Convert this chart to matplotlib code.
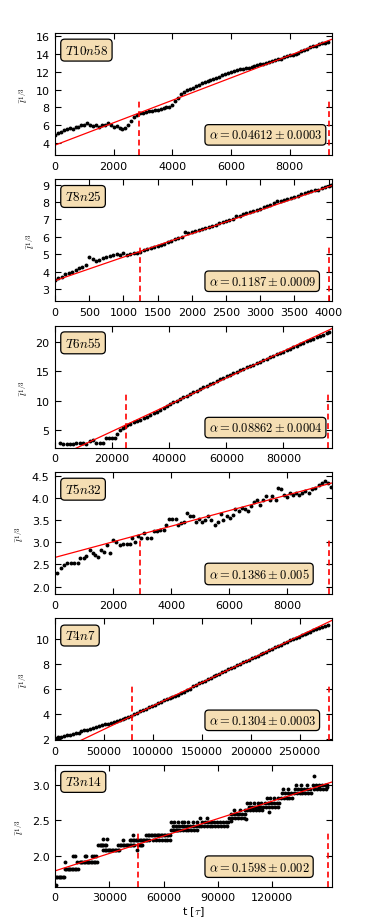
import matplotlib
matplotlib.use("Agg")
import matplotlib.pyplot as plt

plt.rcParams['mathtext.fontset'] = 'cm'
plt.rcParams['font.family'] = ['DejaVu Sans']

# ---- data ----
# T10n58
t_10n58 = [0, 100, 200, 300, 400, 500, 600, 700, 800, 900, 1000, 1100, 1200, 1300, 1400,
           1500, 1600, 1700, 1800, 1900, 2000, 2100, 2200, 2300, 2400, 2500, 2600, 2700,
           2800, 2900, 3000, 3100, 3200, 3300, 3400, 3500, 3600, 3700, 3800, 3900, 4000,
           4100, 4200, 4300, 4400, 4500, 4600, 4700, 4800, 4900, 5000, 5100, 5200, 5300,
           5400, 5500, 5600, 5700, 5800, 5900, 6000, 6100, 6200, 6300, 6400, 6500, 6600,
           6700, 6800, 6900, 7000, 7100, 7200, 7300, 7400, 7500, 7600, 7700, 7800, 7900,
           8000, 8100, 8200, 8300, 8400, 8500, 8600, 8700, 8800, 8900, 9000, 9100, 9200, 9300]
l_10n58 = [4.9, 5.1, 5.3, 5.45, 5.6, 5.75, 5.65, 5.8, 5.85, 6.0, 6.1, 6.25, 6.1, 5.95, 6.0,
           5.85, 6.0, 6.1, 6.3, 6.0, 5.85, 5.9, 5.7, 5.55, 5.75, 6.1, 6.5, 6.9,
           7.2, 7.35, 7.4, 7.45, 7.6, 7.65, 7.7, 7.75, 7.85, 7.95, 8.05, 8.0, 8.3,
           8.7, 9.1, 9.45, 9.7, 9.9, 10.05, 10.2, 10.35, 10.5, 10.7, 10.85, 10.95, 11.05,
           11.15, 11.3, 11.45, 11.6, 11.75, 11.85, 11.95, 12.05, 12.15, 12.25, 12.3, 12.35, 12.4,
           12.5, 12.6, 12.7, 12.8, 12.85, 12.95, 13.05, 13.15, 13.25, 13.35, 13.45, 13.6, 13.7,
           13.8, 13.85, 13.95, 14.1, 14.25, 14.4, 14.55, 14.7, 14.8, 14.9, 15.05, 15.15, 15.2, 15.3]

# T8n25
t_8n25 = [0, 50, 100, 150, 200, 250, 300, 350, 400, 450, 500, 550, 600, 650, 700, 750, 800,
          850, 900, 950, 1000, 1050, 1100, 1150, 1200, 1250, 1300, 1350, 1400, 1450, 1500,
          1550, 1600, 1650, 1700, 1750, 1800, 1850, 1900, 1950, 2000, 2050, 2100, 2150, 2200,
          2250, 2300, 2350, 2400, 2450, 2500, 2550, 2600, 2650, 2700, 2750, 2800, 2850, 2900,
          2950, 3000, 3050, 3100, 3150, 3200, 3250, 3300, 3350, 3400, 3450, 3500, 3550, 3600,
          3650, 3700, 3750, 3800, 3850, 3900, 3950, 4000, 4040]
l_8n25 = [3.55, 3.62, 3.7, 3.85, 3.95, 3.98, 4.1, 4.22, 4.3, 4.4, 4.85, 4.72, 4.62, 4.7, 4.78,
          4.85, 4.92, 4.97, 5.0, 4.98, 5.05, 4.95, 5.02, 5.05, 5.1, 5.15, 5.22, 5.3, 5.35,
          5.42, 5.48, 5.55, 5.62, 5.7, 5.78, 5.88, 5.95, 6.02, 6.3, 6.2, 6.3, 6.32, 6.4,
          6.45, 6.52, 6.55, 6.62, 6.7, 6.78, 6.85, 6.92, 6.95, 7.05, 7.18, 7.2, 7.3, 7.38,
          7.42, 7.5, 7.55, 7.62, 7.7, 7.78, 7.85, 7.92, 8.05, 8.05, 8.1, 8.15, 8.22, 8.3,
          8.35, 8.45, 8.52, 8.58, 8.62, 8.68, 8.72, 8.78, 8.85, 8.9, 8.95]

# T6n55
t_6n55 = [1700, 2900, 4100, 5200, 6400, 7500, 8700, 9800, 11000, 12200, 13300, 14500, 15700,
          16800, 17900, 19000, 20100, 21000, 21800, 22700, 23700, 24500,
          25200, 26300, 27500, 28600, 29800, 31000, 32100, 33300, 34500, 35600, 36800, 38000,
          39200, 40300, 41500, 42600, 43800, 45000, 46100, 47300, 48500, 49600, 50800, 52000,
          53100, 54300, 55500, 56600, 57800, 59000, 60100, 61300, 62500, 63600, 64800, 66000,
          67100, 68300, 69400, 70600, 71800, 72900, 74100, 75300, 76400, 77600, 78800, 79900,
          81100, 82300, 83400, 84600, 85800, 86900, 88100, 89300, 90400, 91600, 92800, 93900,
          95100, 95900]
l_6n55 = [2.72, 2.68, 2.62, 2.65, 2.7, 2.74, 2.78, 2.72, 2.55, 3.15, 3.3, 2.82, 2.78,
          2.85, 3.6, 3.68, 3.62, 3.65, 4.3, 4.95, 5.35, 5.55,
          5.91, 6.11, 6.33, 6.53, 6.70, 6.97, 7.24, 7.54, 7.84, 8.11, 8.44, 8.76,
          9.08, 9.38, 9.68, 9.95, 10.24, 10.53, 10.80, 11.09, 11.39, 11.66, 11.96, 12.23,
          12.49, 12.77, 13.04, 13.30, 13.58, 13.86, 14.11, 14.37, 14.64, 14.88, 15.14, 15.39,
          15.62, 15.88, 16.12, 16.38, 16.63, 16.86, 17.11, 17.37, 17.59, 17.85, 18.1, 18.33,
          18.58, 18.83, 19.06, 19.31, 19.56, 19.79, 20.04, 20.30, 20.53, 20.76, 20.99, 21.20,
          21.43, 21.57]

# T5n32
t_5n32 = [81, 197, 312, 428, 543, 659, 775, 867, 983, 1075, 1191, 1306, 1387, 1468, 1584,
          1700, 1792, 1907, 2000, 2115, 2231, 2347, 2462, 2578, 2659, 2751, 2855, 2948, 3063,
          3179, 3294, 3410, 3503, 3618, 3734, 3826, 3919, 4034, 4150, 4242, 4335, 4451, 4543,
          4636, 4751, 4844, 4959, 5075, 5167, 5260, 5375, 5491, 5607, 5699, 5792, 5907, 6023,
          6115, 6208, 6323, 6439, 6531, 6647, 6739, 6832, 6948, 7063, 7156, 7271, 7387, 7479,
          7595, 7687, 7780, 7872, 7988, 8080, 8196, 8289, 8404, 8497, 8612, 8728, 8843, 8959,
          9075, 9190, 9306, 9398, 9491]
l_5n32 = [2.30, 2.43, 2.49, 2.54, 2.54, 2.54, 2.54, 2.64, 2.64, 2.69, 2.82, 2.76, 2.72, 2.67,
          2.82, 2.78, 2.93, 2.76, 3.05, 3.0, 2.94, 2.97, 2.97, 2.97, 3.11, 3.0, 3.14, 3.1,
          3.22, 3.11, 3.11, 3.25, 3.25, 3.27, 3.28, 3.40, 3.53, 3.53, 3.53, 3.40, 3.44, 3.47,
          3.67, 3.59, 3.59, 3.47, 3.53, 3.46, 3.51, 3.59, 3.50, 3.40, 3.47, 3.65, 3.50, 3.59,
          3.56, 3.62, 3.76, 3.70, 3.78, 3.76, 3.72, 3.83, 3.91, 3.95, 3.85, 3.97, 4.06, 3.97,
          4.05, 3.95, 4.23, 4.21, 4.08, 4.02, 4.12, 4.08, 4.12, 4.08, 4.11, 4.17, 4.12, 4.20,
          4.23, 4.29, 4.35, 4.38, 4.35, 4.25]

# T4n7
t_4n7 = [0, 3000, 6000, 9000, 12000, 15000, 18000, 21000, 24000, 27000, 30000, 33000, 36000,
         39000, 42000, 45000, 48000, 51000, 54000, 57000, 60000, 63000, 66000, 69000, 72000,
         75000, 78000, 81000, 84000, 87000, 90000, 93000, 96000, 99000, 102000, 105000,
         108000, 111000, 114000, 117000, 120000, 123000, 126000, 129000, 132000, 135000,
         138000, 141000, 144000, 147000, 150000, 153000, 156000, 159000, 162000, 165000,
         168000, 171000, 174000, 177000, 180000, 183000, 186000, 189000, 192000, 195000,
         198000, 201000, 204000, 207000, 210000, 213000, 216000, 219000, 222000, 225000,
         228000, 231000, 234000, 237000, 240000, 243000, 246000, 249000, 252000, 255000,
         258000, 261000, 264000, 267000, 270000, 273000, 276000, 279000]
l_4n7 = [2.05, 2.12, 2.15, 2.2, 2.26, 2.3, 2.36, 2.42, 2.46, 2.62, 2.68, 2.66, 2.75,
         2.84, 2.9, 2.98, 3.08, 3.14, 3.2, 3.27, 3.35, 3.42, 3.5, 3.58, 3.65,
         3.72, 3.8, 3.96, 4.07, 4.18, 4.29, 4.40, 4.51, 4.62, 4.73, 4.85,
         4.95, 5.06, 5.16, 5.26, 5.36, 5.44, 5.52, 5.61, 5.72, 5.85,
         6.0, 6.17, 6.3, 6.42, 6.53, 6.64, 6.75, 6.86, 6.98, 7.09,
         7.2, 7.31, 7.42, 7.54, 7.65, 7.76, 7.87, 7.98, 8.09, 8.2,
         8.31, 8.41, 8.52, 8.63, 8.74, 8.85, 8.96, 9.07, 9.18, 9.3,
         9.41, 9.52, 9.63, 9.74, 9.85, 9.95, 10.05, 10.15, 10.25, 10.35,
         10.45, 10.55, 10.64, 10.73, 10.82, 10.91, 10.99, 11.08]

# T3n14 (values sit on discrete levels)
t_3n14 = [550,
          550, 1300, 2000, 2800, 3500, 4300, 5000,
          5500,
          5500, 6300, 7000, 7800, 8500, 9300, 10000, 10800, 11500, 12800,
          10000, 11000,
          12000, 13600, 14300, 15100, 15800, 16600, 17400, 18200, 19000, 19800, 20600, 21400, 22200, 23000,
          16500, 17300, 20500, 21300, 22800,
          23900, 24600, 25300, 26000, 26700, 27400, 28100,
          26600, 28800,
          26600, 27400, 28200, 29000, 29800, 30600, 31400, 32200, 33000, 33800, 34600, 35400,
          35000, 35800, 36600, 37400, 38200, 39000, 39800, 40600, 41400, 42200, 43000, 43800,
          37600, 43100,
          41300, 42100, 42900, 43700, 44500, 45300, 46100, 46900, 47700, 48500, 49300, 50100, 50900, 51700,
          45500,
          45900, 46700, 47500, 48300,
          50500, 51300, 52100, 52900, 53700, 54500, 55300, 56100, 56900, 57700, 58500, 59300, 60100,
          60900, 61700, 62500, 63300,
          54100, 55700, 57300, 58900, 60500, 62100, 63300,
          64200, 65000, 65800, 66600, 67400, 68200, 69000,
          64200, 66000, 68000, 70000,
          65100, 66700, 68300, 69900, 71500, 73100, 74700, 76300, 77900, 79500,
          70500, 72100, 73700, 75300, 76900, 78500,
          71000, 73500, 76000, 78500,
          80600, 82200, 83800, 85400, 87000, 88600, 90200, 91800, 93400, 95000,
          81400, 83000, 84600, 86200, 87800, 89400, 91000, 92600, 94200, 95800,
          80000, 84000,
          96300, 97900, 99500, 101100, 102700, 104300,
          97100, 98700, 100300, 101900, 103500, 105100,
          99000, 102000, 105000,
          97000, 105500,
          106300, 107900, 109500, 111100, 112700, 114300,
          107100, 108700, 110300, 111900, 113500, 115100,
          106000, 108000, 110000, 112000, 114000,
          118400,
          116700, 118300, 119900, 121500, 123100,
          116000, 117600, 119200, 120800, 122400, 124000,
          117000, 119000, 121000, 123000,
          124700, 126300, 127900, 129500, 131100,
          125500, 127100, 128700, 130300,
          126000, 129000,
          131900, 133500, 135100, 136700, 138300, 139900, 141500,
          132700, 134300, 135900, 137500, 139100, 140700,
          133000, 136000, 139000,
          143100,
          142500, 144100, 145700, 147300, 148900, 150500,
          143300, 144900, 146500, 148100, 149700,
          146000, 150000]
l_3n14 = [1.59,
          1.71, 1.71, 1.71, 1.71, 1.71, 1.71, 1.71,
          1.92,
          1.82, 1.82, 1.82, 1.82, 1.82, 1.82, 1.82, 1.82, 1.82, 1.82,
          2.0, 2.0,
          1.92, 1.92, 1.92, 1.92, 1.92, 1.92, 1.92, 1.92, 1.92, 1.92, 1.92, 1.92, 1.92, 1.92,
          2.0, 2.0, 2.0, 2.0, 2.0,
          2.16, 2.16, 2.16, 2.16, 2.16, 2.16, 2.16,
          2.24, 2.24,
          2.09, 2.09, 2.09, 2.09, 2.09, 2.09, 2.09, 2.09, 2.09, 2.09, 2.09, 2.09,
          2.16, 2.16, 2.16, 2.16, 2.16, 2.16, 2.16, 2.16, 2.16, 2.16, 2.16, 2.16,
          2.23, 2.29,
          2.23, 2.23, 2.23, 2.23, 2.23, 2.23, 2.23, 2.23, 2.23, 2.23, 2.23, 2.23, 2.23, 2.23,
          2.09,
          2.16, 2.16, 2.16, 2.16,
          2.29, 2.29, 2.29, 2.29, 2.29, 2.29, 2.29, 2.29, 2.29, 2.29, 2.29, 2.29, 2.29,
          2.29, 2.29, 2.29, 2.29,
          2.23, 2.23, 2.23, 2.23, 2.23, 2.23, 2.23,
          2.36, 2.36, 2.36, 2.36, 2.36, 2.36, 2.36,
          2.48, 2.48, 2.48, 2.48,
          2.42, 2.42, 2.42, 2.42, 2.42, 2.42, 2.42, 2.42, 2.42, 2.42,
          2.36, 2.36, 2.36, 2.36, 2.36, 2.36,
          2.48, 2.48, 2.48, 2.48,
          2.42, 2.42, 2.42, 2.42, 2.42, 2.42, 2.42, 2.42, 2.42, 2.42,
          2.48, 2.48, 2.48, 2.48, 2.48, 2.48, 2.48, 2.48, 2.48, 2.48,
          2.54, 2.54,
          2.54, 2.54, 2.54, 2.54, 2.54, 2.54,
          2.59, 2.59, 2.59, 2.59, 2.59, 2.59,
          2.64, 2.64, 2.64,
          2.49, 2.52,
          2.65, 2.65, 2.65, 2.65, 2.65, 2.65,
          2.69, 2.69, 2.69, 2.69, 2.69, 2.69,
          2.75, 2.75, 2.75, 2.75, 2.75,
          2.62,
          2.69, 2.69, 2.69, 2.69, 2.69,
          2.75, 2.75, 2.75, 2.75, 2.75, 2.75,
          2.82, 2.82, 2.82, 2.82,
          2.82, 2.82, 2.82, 2.82, 2.82,
          2.885, 2.885, 2.885, 2.885,
          2.94, 2.94,
          2.885, 2.885, 2.885, 2.885, 2.885, 2.885, 2.885,
          2.94, 2.94, 2.94, 2.94, 2.94, 2.94,
          3.0, 3.0, 3.0,
          3.12,
          3.0, 3.0, 3.0, 3.0, 3.0, 3.0,
          2.94, 2.94, 2.94, 2.94, 2.94,
          2.97, 2.97]

names = ['$T10n58$', '$T8n25$', '$T6n55$', '$T5n32$', '$T4n7$', '$T3n14$']
alphas = ['0.04612', '0.1187', '0.08862', '0.1386', '0.1304', '0.1598']
alpha_err = ['0.0003', '0.0009', '0.0004', '0.005', '0.0003', '0.002']
# fitted straight line: intercept, slope
fit_b = [3.8, 3.49, 0.25, 2.66, 0.88, 1.793]
fit_m = [0.0012507, 0.001348, 0.0002265, 0.0001767, 3.734e-5, 8.146e-6]
# start / end of the fitting window
fit_lo = [2862, 1245, 24800, 2915, 78300, 45700]
fit_hi = [9336, 4010, 95500, 9420, 279600, 150800]

series = [(t_10n58, l_10n58), (t_8n25, l_8n25), (t_6n55, l_6n55),
          (t_5n32, l_5n32), (t_4n7, l_4n7), (t_3n14, l_3n14)]

xlims = [9440, 4050, 97000, 9530, 283000, 153000]
ylims = [(2.7, 16.3), (2.3, 9.3), (2.0, 22.7), (1.83, 4.59), (1.86, 11.6), (1.57, 3.28)]
xticks = [[0, 2000, 4000, 6000, 8000],
          [0, 500, 1000, 1500, 2000, 2500, 3000, 3500, 4000],
          [0, 20000, 40000, 60000, 80000],
          [0, 2000, 4000, 6000, 8000],
          [0, 50000, 100000, 150000, 200000, 250000],
          [0, 30000, 60000, 90000, 120000]]
yticks = [[4, 6, 8, 10, 12, 14, 16],
          [3, 4, 5, 6, 7, 8, 9],
          [5, 10, 15, 20],
          [2.0, 2.5, 3.0, 3.5, 4.0, 4.5],
          [2, 4, 6, 8, 10],
          [2.0, 2.5, 3.0]]

fig, axes = plt.subplots(6, 1, figsize=(3.68, 9.2), dpi=100)
fig.subplots_adjust(left=0.1495, right=0.902, top=0.963, bottom=0.035, hspace=0.2)

box = dict(boxstyle='round,pad=0.3', facecolor='#f5deb3', edgecolor='black', lw=0.9)

for i, ax in enumerate(axes):
    t, l = series[i]
    ax.plot(t, l, 'o', color='black', ms=2.8, mew=0)
    xmax = xlims[i]
    ax.plot([0, xmax], [fit_b[i], fit_b[i] + fit_m[i] * xmax], color='red', lw=0.9)
    for xv in (fit_lo[i], fit_hi[i]):
        ax.axvline(xv, ymin=0, ymax=0.46, color='red', ls=(0, (3.5, 2.2)), lw=1.2)
    ax.set_xlim(0, xmax)
    ax.set_ylim(*ylims[i])
    ax.set_xticks(xticks[i])
    ax.set_yticks(yticks[i])
    ax.tick_params(direction='in', top=True, right=True, length=4, width=0.8,
                   labelsize=8, pad=4)
    ax.set_ylabel(r'$\bar{l}^{1/3}$', fontsize=7, labelpad=4)
    ax.text(0.035, 0.86, names[i], transform=ax.transAxes, fontsize=9.5,
            va='center', ha='left', bbox=box)
    ax.text(0.555, 0.165, r'$\alpha = %s \pm %s$' % (alphas[i], alpha_err[i]),
            transform=ax.transAxes, fontsize=9, va='center', ha='left', bbox=box)

axes[-1].set_xlabel(r't [$\tau$]', fontsize=8, labelpad=1)

fig.savefig('out.png', dpi=100)
